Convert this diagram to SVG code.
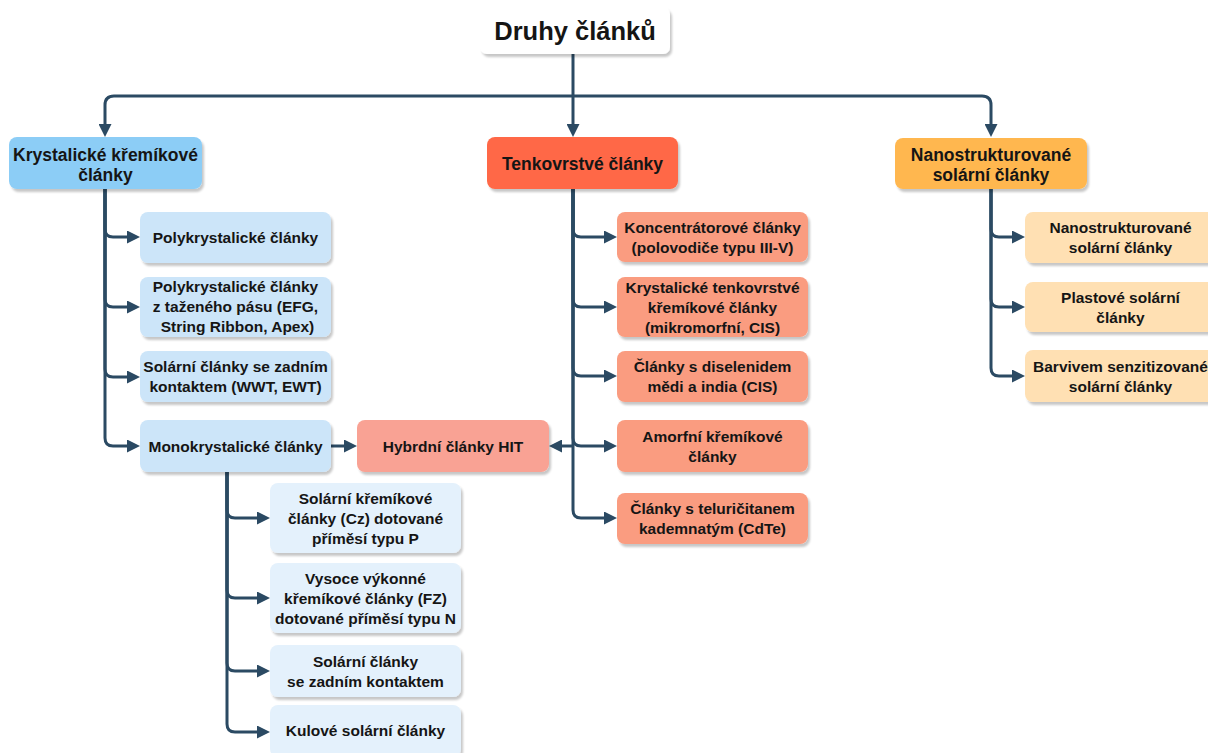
<svg xmlns="http://www.w3.org/2000/svg" width="1208" height="753" viewBox="0 0 1208 753">
<defs>
<filter id="sh" x="-10%" y="-10%" width="125%" height="140%">
<feDropShadow dx="2" dy="3" stdDeviation="1.3" flood-color="#000" flood-opacity="0.22"/>
</filter>
<marker id="ar" markerUnits="userSpaceOnUse" markerWidth="13" markerHeight="13" refX="1" refY="6.5" orient="auto">
<path d="M0,0 L13,6.5 L0,13 z" fill="#2b4a63"/>
</marker>
<style>
.n{filter:url(#sh)}
.t{font-family:"Liberation Sans",Arial,sans-serif;font-weight:bold;fill:#151515;text-anchor:middle}
.c{font-size:15.5px}
.p{font-size:17.5px}
.e{fill:none;stroke:#2b4a63;stroke-width:3;marker-end:url(#ar)}
.l{fill:none;stroke:#2b4a63;stroke-width:3}
.wh{fill:#ffffff}
.bl{fill:#8ccdf6}
.bl1{fill:#cce5f9}
.bl2{fill:#e4f1fc}
.rd{fill:#ff6846}
.rd1{fill:#fa9c80}
.hy{fill:#f9a294}
.or{fill:#ffb74f}
.or1{fill:#ffe0b3}
</style>
</defs>
<rect width="1208" height="753" fill="#ffffff"/>

<g id="connectors">
<path class="l" d="M573,54 V96"/>
<path class="e" d="M573,96 V125"/>
<path class="e" d="M573,96 H114 Q105,96 105,105 V125"/>
<path class="e" d="M573,96 H982 Q991,96 991,105 V125"/>

<path class="e" d="M105,189 V229 Q105,237 113,237 H128"/>
<path class="e" d="M105,189 V299 Q105,307 113,307 H128"/>
<path class="e" d="M105,189 V369 Q105,377 113,377 H128"/>
<path class="e" d="M105,189 V438 Q105,446 113,446 H128"/>
<path class="e" d="M331,446 H345"/>

<path class="e" d="M227,472 V510 Q227,518 235,518 H258"/>
<path class="e" d="M227,472 V590 Q227,598 235,598 H258"/>
<path class="e" d="M227,472 V663 Q227,671 235,671 H258"/>
<path class="e" d="M227,472 V724 Q227,732 235,732 H258"/>

<path class="e" d="M573,189 V229 Q573,237 581,237 H605"/>
<path class="e" d="M573,189 V299 Q573,307 581,307 H605"/>
<path class="e" d="M573,189 V368 Q573,376 581,376 H605"/>
<path class="e" d="M573,189 V438 Q573,446 581,446 H605"/>
<path class="e" d="M573,189 V510 Q573,518 581,518 H605"/>
<path class="e" d="M573,446 H561"/>

<path class="e" d="M991,189 V229 Q991,237 999,237 H1013"/>
<path class="e" d="M991,189 V299 Q991,307 999,307 H1013"/>
<path class="e" d="M991,189 V368 Q991,376 999,376 H1013"/>
</g>

<g id="root">
<rect class="n wh" x="480" y="7" width="190" height="47" rx="7"/>
<text class="t" x="575" y="40" font-size="25.5">Druhy článků</text>
</g>

<g id="krystalicke">
<rect class="n bl" x="9" y="137" width="193" height="52" rx="8"/>
<text class="t p"><tspan x="105.5" y="161">Krystalické křemíkové</tspan><tspan x="105.5" y="181">články</tspan></text>
</g>
<g id="tenkovrstve">
<rect class="n rd" x="487" y="137" width="191" height="52" rx="8"/>
<text class="t p" x="582.5" y="170">Tenkovrstvé články</text>
</g>
<g id="nano">
<rect class="n or" x="895" y="138" width="192" height="51" rx="8"/>
<text class="t p"><tspan x="991" y="160.5">Nanostrukturované</tspan><tspan x="991" y="180.5">solární články</tspan></text>
</g>

<g id="poly">
<rect class="n bl1" x="140" y="212" width="191" height="51" rx="8"/>
<text class="t c" x="235.5" y="243">Polykrystalické články</text>
</g>
<g id="poly-efg">
<rect class="n bl1" x="140" y="277" width="191" height="60" rx="8"/>
<text class="t c"><tspan x="235.5" y="292">Polykrystalické články</tspan><tspan x="235.5" y="312">z taženého pásu (EFG,</tspan><tspan x="237.5" y="332">String Ribbon, Apex)</tspan></text>
</g>
<g id="zadni-kontakt">
<rect class="n bl1" x="140" y="351" width="191" height="51" rx="8"/>
<text class="t c"><tspan x="235.5" y="372">Solární články se zadním</tspan><tspan x="235.5" y="392">kontaktem (WWT, EWT)</tspan></text>
</g>
<g id="mono">
<rect class="n bl1" x="140" y="420" width="191" height="52" rx="8"/>
<text class="t c" x="235.5" y="451.5">Monokrystalické články</text>
</g>
<g id="hit">
<rect class="n hy" x="357" y="420" width="192" height="52" rx="8"/>
<text class="t c" x="453" y="451.5">Hybrdní články HIT</text>
</g>

<g id="cz">
<rect class="n bl2" x="270" y="483" width="191" height="70" rx="8"/>
<text class="t c"><tspan x="365.5" y="503.5">Solární křemíkové</tspan><tspan x="365.5" y="523.5">články (Cz) dotované</tspan><tspan x="365.5" y="543.5">příměsí typu P</tspan></text>
</g>
<g id="fz">
<rect class="n bl2" x="270" y="563" width="191" height="70" rx="8"/>
<text class="t c"><tspan x="365.5" y="584">Vysoce výkonné</tspan><tspan x="365.5" y="604">křemíkové články (FZ)</tspan><tspan x="365.5" y="624">dotované příměsí typu N</tspan></text>
</g>
<g id="mono-zadni">
<rect class="n bl2" x="270" y="645" width="191" height="52" rx="8"/>
<text class="t c"><tspan x="365.5" y="666.5">Solární články</tspan><tspan x="365.5" y="686.5">se zadním kontaktem</tspan></text>
</g>
<g id="kulove">
<rect class="n bl2" x="270" y="705" width="191" height="52" rx="8"/>
<text class="t c" x="365.5" y="736">Kulové solární články</text>
</g>

<g id="koncentratorove">
<rect class="n rd1" x="617" y="212" width="191" height="50" rx="8"/>
<text class="t c"><tspan x="712.5" y="232.5">Koncentrátorové články</tspan><tspan x="712.5" y="252.5">(polovodiče typu III-V)</tspan></text>
</g>
<g id="kryst-tenko">
<rect class="n rd1" x="617" y="277" width="191" height="60" rx="8"/>
<text class="t c"><tspan x="712.5" y="292.5">Krystalické tenkovrstvé</tspan><tspan x="712.5" y="312.5">křemíkové články</tspan><tspan x="712.5" y="332.5">(mikromorfní, CIS)</tspan></text>
</g>
<g id="cis">
<rect class="n rd1" x="617" y="351" width="191" height="51" rx="8"/>
<text class="t c"><tspan x="712.5" y="372">Články s diselenidem</tspan><tspan x="712.5" y="392">mědi a india (CIS)</tspan></text>
</g>
<g id="amorfni">
<rect class="n rd1" x="617" y="420" width="191" height="52" rx="8"/>
<text class="t c"><tspan x="712.5" y="441.5">Amorfní křemíkové</tspan><tspan x="712.5" y="461.5">články</tspan></text>
</g>
<g id="cdte">
<rect class="n rd1" x="617" y="493" width="191" height="51" rx="8"/>
<text class="t c"><tspan x="712.5" y="514">Články s teluričitanem</tspan><tspan x="712.5" y="534">kademnatým (CdTe)</tspan></text>
</g>

<g id="nano-sub">
<rect class="n or1" x="1025" y="212" width="191" height="51" rx="8"/>
<text class="t c"><tspan x="1120.5" y="233">Nanostrukturované</tspan><tspan x="1120.5" y="253">solární články</tspan></text>
</g>
<g id="plastove">
<rect class="n or1" x="1025" y="282" width="191" height="50" rx="8"/>
<text class="t c"><tspan x="1120.5" y="302.5">Plastové solární</tspan><tspan x="1120.5" y="322.5">články</tspan></text>
</g>
<g id="barvivem">
<rect class="n or1" x="1025" y="350" width="191" height="52" rx="8"/>
<text class="t c"><tspan x="1120.5" y="371.5">Barvivem senzitizované</tspan><tspan x="1120.5" y="391.5">solární články</tspan></text>
</g>
</svg>
